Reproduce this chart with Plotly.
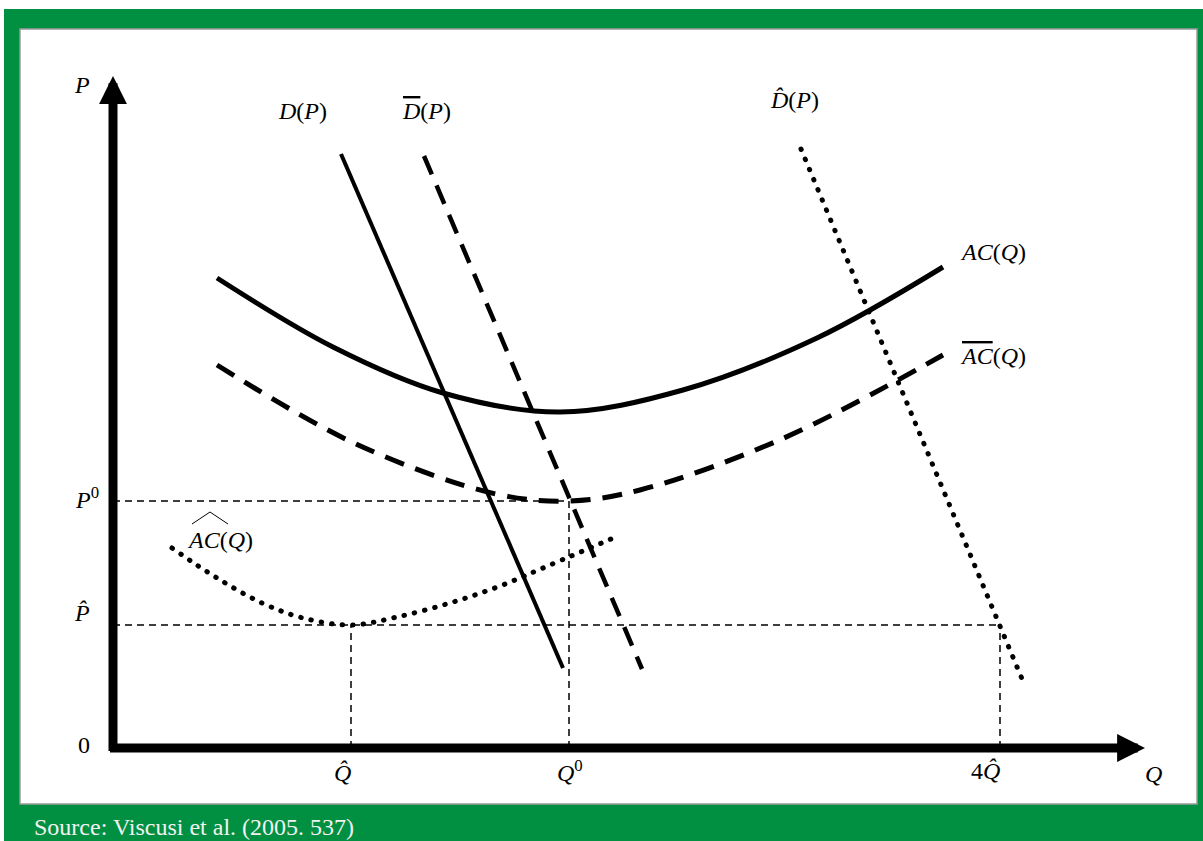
import plotly.graph_objects as go

# ---------------- data (Q horizontal, P vertical, arbitrary units) ----------------
# demand curves (straight lines)
D_Q = [22.8, 45.0]
D_P = [59.4, 8.0]
Dbar_Q = [31.1, 52.9]
Dbar_P = [59.2, 7.9]
Dhat_Q = [68.8, 91.2]
Dhat_P = [59.9, 6.2]

# average cost curves
AC_Q = [10.4, 22.0, 33.0, 44.7, 57.0, 70.4, 83.0]
AC_P = [47.0, 40.1, 35.5, 33.6, 35.8, 41.0, 48.1]
ACbar_Q = [10.4, 24.3, 38.3, 45.6, 52.7, 67.1, 83.0]
ACbar_P = [38.3, 30.4, 25.4, 24.7, 25.8, 31.0, 39.3]
AChat_Q = [5.9, 10.4, 14.9, 19.0, 23.8, 28.4, 33.7, 38.7, 43.7, 50.5]
AChat_P = [20.0, 17.0, 14.5, 13.0, 12.3, 13.1, 14.5, 16.2, 18.3, 21.2]

# reference levels
P0 = 24.7
Q0 = 45.6
P_hat = 12.3
Q_hat = 23.8
Q4_hat = 88.7

# axis extents
Q_max = 103.2
P_max = 67.2

# labels
tick_labels = ["0", "<i>P</i><sup>0</sup>", "<i>P\u0302</i>", "<i>Q\u0302</i>", "<i>Q</i><sup>0</sup>", "4<i>Q\u0302</i>"]
curve_labels = ["<i>D</i>(<i>P</i>)",
                "<span style='text-decoration:overline'><i>D</i></span>(<i>P</i>)",
                "<i>D\u0302</i>(<i>P</i>)",
                "<i>AC</i>(<i>Q</i>)",
                "<span style='text-decoration:overline'><i>AC</i></span>(<i>Q</i>)",
                "<i>AC</i>(<i>Q</i>)"]
source_text = "Source: Viscusi et al. (2005. 537)"

GREEN = "#019041"
FONT = "Liberation Serif"
FS = 24

fig = go.Figure()

# dashed reference lines (trace 0)
fig.add_trace(go.Scatter(
    x=[0, Q0, None, Q0, Q0, None, 0, Q4_hat, None, Q_hat, Q_hat, None, Q4_hat, Q4_hat],
    y=[P0, P0, None, 0, P0, None, P_hat, P_hat, None, 0, P_hat, None, 0, P_hat],
    mode="lines", line=dict(color="black", width=1.5, dash="7px,5px"),
    hoverinfo="skip", showlegend=False))

# cost curves (traces 1-3)
fig.add_trace(go.Scatter(x=AC_Q, y=AC_P, mode="lines", line=dict(color="black", width=5, shape="spline"),
                         showlegend=False))
fig.add_trace(go.Scatter(x=ACbar_Q, y=ACbar_P, mode="lines",
                         line=dict(color="black", width=5, shape="spline", dash="20px,12px"), showlegend=False))
fig.add_trace(go.Scatter(x=AChat_Q, y=AChat_P, mode="lines",
                         line=dict(color="black", width=5, shape="spline", dash="0.5px,10px"), showlegend=False))

# demand curves (traces 4-6)
fig.add_trace(go.Scatter(x=D_Q, y=D_P, mode="lines", line=dict(color="black", width=4), showlegend=False))
fig.add_trace(go.Scatter(x=Dbar_Q, y=Dbar_P, mode="lines",
                         line=dict(color="black", width=4.5, dash="20px,12px"), showlegend=False))
fig.add_trace(go.Scatter(x=Dhat_Q, y=Dhat_P, mode="lines",
                         line=dict(color="black", width=5, dash="0.5px,10.5px"), showlegend=False))

annotations = []
# axes with arrows
annotations.append(dict(x=Q_max, y=0, ax=-0.45, ay=0, xref="x", yref="y", axref="x", ayref="y",
                        text="", showarrow=True, arrowhead=2, arrowsize=0.62, arrowwidth=9,
                        arrowcolor="black"))
annotations.append(dict(x=0, y=P_max, ax=0, ay=-0.45, xref="x", yref="y", axref="x", ayref="y",
                        text="", showarrow=True, arrowhead=2, arrowsize=0.62, arrowwidth=9,
                        arrowcolor="black"))


def lab(x, y, t, size=FS):
    annotations.append(dict(x=x, y=y, xref="x", yref="y", text=t, showarrow=False,
                            font=dict(family=FONT, size=size, color="black"),
                            xanchor="center", yanchor="middle"))


lab(-3.1, 66.3, "<i>P</i>")
lab(104.0, -2.6, "<i>Q</i>")
lab(-2.9, 0.3, tick_labels[0])
lab(-2.6, 25.0, tick_labels[1])
lab(-3.1, 13.5, tick_labels[2])
lab(Q_hat - 0.9, -2.5, tick_labels[3])
lab(Q0 + 0.1, -2.3, tick_labels[4])
lab(Q4_hat - 1.5, -2.3, tick_labels[5])

lab(18.9, 63.7, curve_labels[0])
lab(31.3, 63.7, curve_labels[1])
lab(68.1, 64.8, curve_labels[2])
lab(88.0, 49.6, curve_labels[3])
lab(88.0, 39.2, curve_labels[4])
ACHAT_LQ, ACHAT_LP = 10.7, 20.8
lab(ACHAT_LQ, ACHAT_LP, curve_labels[5])

annotations.append(dict(x=33 / 1203, y=1 - 827 / 841, xref="paper", yref="paper", text=source_text,
                        showarrow=False, xanchor="left", yanchor="middle", borderpad=0,
                        font=dict(family=FONT, size=FS, color="#f2f2f2")))

shapes = [
    dict(type="rect", xref="paper", yref="paper", x0=4 / 1203, x1=1, y0=0, y1=1 - 9 / 841,
         fillcolor=GREEN, line=dict(width=0), layer="below"),
    dict(type="rect", xref="paper", yref="paper", x0=20 / 1203, x1=1197 / 1203, y0=1 - 804 / 841,
         y1=1 - 29 / 841, fillcolor="white", line=dict(color="#9a9a9a", width=1.5), layer="below"),
    # wide hat over AC
    dict(type="line", xref="x", yref="y", x0=ACHAT_LQ - 2.8, y0=ACHAT_LP + 1.6, x1=ACHAT_LQ - 1.0,
         y1=ACHAT_LP + 2.8, line=dict(color="black", width=1)),
    dict(type="line", xref="x", yref="y", x0=ACHAT_LQ - 1.0, y0=ACHAT_LP + 2.8, x1=ACHAT_LQ + 0.8,
         y1=ACHAT_LP + 1.6, line=dict(color="black", width=1)),
]

fig.update_layout(
    width=1203, height=841, margin=dict(l=0, r=0, t=0, b=0),
    paper_bgcolor="white", plot_bgcolor="rgba(0,0,0,0)",
    xaxis=dict(range=[-11.3, 109.0], visible=False, fixedrange=True),
    yaxis=dict(range=[-9.3, 74.8], visible=False, fixedrange=True),
    annotations=annotations, shapes=shapes, showlegend=False,
)

post = (
    "document.body.style.margin='0';document.body.style.overflow='hidden';"
    "var tr=document.querySelectorAll('.scatterlayer .trace');"
    "[3,6].forEach(function(i){if(tr[i]){tr[i].querySelectorAll('path.js-line').forEach("
    "function(p){p.style.strokeLinecap='round';});}});"
)
fig.write_html("out.html", config={"displayModeBar": False}, post_script=post)
